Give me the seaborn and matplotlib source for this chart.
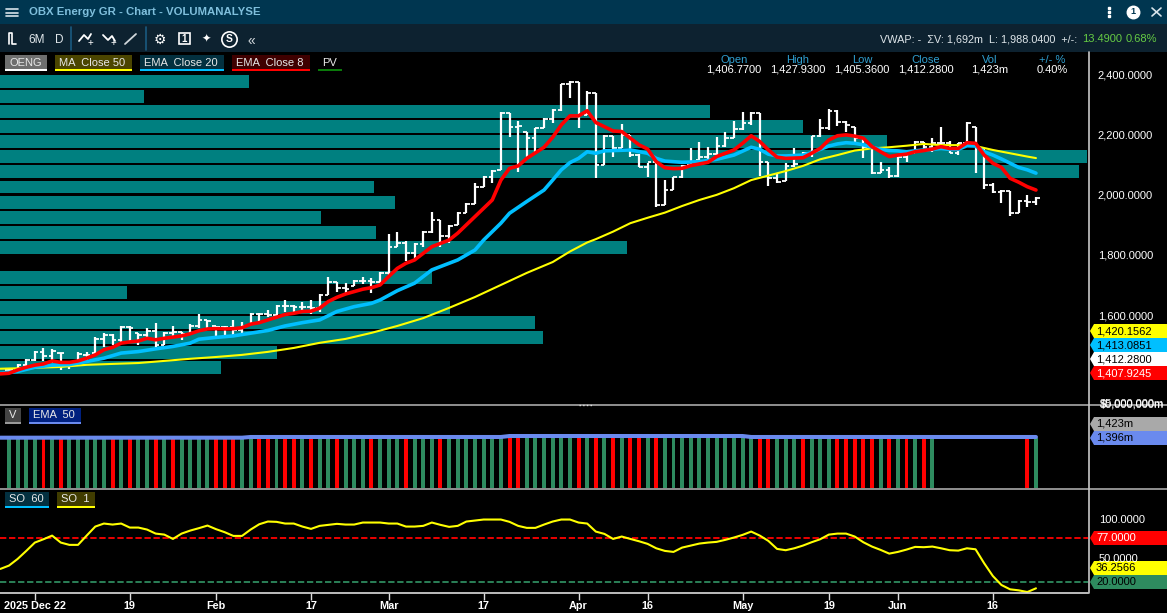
import matplotlib
matplotlib.use("Agg")
import matplotlib.pyplot as plt
from matplotlib.patches import Polygon, Rectangle
import seaborn as sns

# daily bars
bar_no = list(range(120))
open_px = [1418, 1418, 1435, 1451, 1478, 1465, 1475, 1441, 1438, 1468,
           1475, 1521, 1534, 1518, 1561, 1541, 1534, 1548, 1501, 1541,
           1544, 1538, 1564, 1584, 1564, 1561, 1561, 1551, 1567, 1604,
           1604, 1601, 1630, 1630, 1627, 1627, 1624, 1667, 1710, 1690,
           1697, 1713, 1713, 1710, 1740, 1826, 1839, 1806, 1836, 1876,
           1916, 1863, 1899, 1939, 1969, 2025, 2058, 2082, 2271, 2224,
           2208, 2188, 2221, 2251, 2281, 2367, 2373, 2264, 2337, 2098,
           2194, 2155, 2198, 2131, 2092, 2108, 1965, 2015, 2058, 2098,
           2115, 2125, 2135, 2161, 2188, 2218, 2238, 2271, 2108, 2055,
           2045, 2095, 2125, 2138, 2194, 2221, 2277, 2241, 2224, 2188,
           2155, 2072, 2082, 2062, 2125, 2138, 2174, 2158, 2171, 2171,
           2138, 2171, 2224, 2155, 2032, 2009, 2012, 1939, 1979, 1975]
high_px = [1425, 1438, 1455, 1481, 1491, 1488, 1475, 1441, 1478, 1478,
           1528, 1541, 1538, 1564, 1564, 1541, 1557, 1574, 1544, 1564,
           1544, 1571, 1604, 1584, 1564, 1564, 1584, 1577, 1607, 1607,
           1617, 1634, 1650, 1634, 1644, 1650, 1670, 1727, 1710, 1707,
           1717, 1727, 1723, 1743, 1869, 1876, 1846, 1839, 1879, 1942,
           1916, 1899, 1942, 1972, 2038, 2062, 2082, 2274, 2271, 2244,
           2208, 2221, 2254, 2284, 2367, 2377, 2373, 2344, 2337, 2198,
           2194, 2234, 2198, 2135, 2105, 2108, 2048, 2058, 2098, 2155,
           2174, 2158, 2191, 2208, 2244, 2274, 2274, 2271, 2108, 2072,
           2105, 2155, 2141, 2194, 2251, 2284, 2281, 2244, 2224, 2191,
           2155, 2108, 2092, 2125, 2138, 2178, 2174, 2188, 2224, 2178,
           2171, 2241, 2224, 2155, 2038, 2015, 2012, 1982, 1999, 1992]
low_px = [1412, 1418, 1425, 1448, 1448, 1441, 1418, 1422, 1438, 1445,
          1475, 1494, 1501, 1508, 1511, 1501, 1518, 1494, 1501, 1528,
          1518, 1534, 1557, 1551, 1528, 1534, 1534, 1541, 1567, 1574,
          1594, 1594, 1610, 1607, 1614, 1604, 1610, 1667, 1677, 1670,
          1697, 1703, 1674, 1707, 1733, 1826, 1780, 1786, 1826, 1873,
          1826, 1839, 1899, 1939, 1969, 2025, 2038, 2082, 2191, 2075,
          2125, 2141, 2221, 2238, 2277, 2320, 2221, 2264, 2055, 2098,
          2125, 2155, 2125, 2092, 2058, 1959, 1965, 2015, 2055, 2098,
          2115, 2115, 2131, 2158, 2188, 2214, 2231, 2062, 2028, 2038,
          2045, 2092, 2125, 2125, 2191, 2214, 2228, 2208, 2171, 2121,
          2068, 2072, 2055, 2058, 2108, 2138, 2148, 2141, 2161, 2138,
          2131, 2164, 2072, 2019, 2005, 1972, 1929, 1939, 1959, 1965]
close_px = [1418, 1435, 1451, 1478, 1465, 1481, 1475, 1435, 1471, 1468,
            1521, 1534, 1518, 1561, 1557, 1534, 1548, 1501, 1541, 1544,
            1538, 1564, 1584, 1581, 1561, 1561, 1551, 1564, 1604, 1604,
            1601, 1630, 1630, 1627, 1627, 1624, 1667, 1710, 1690, 1687,
            1713, 1713, 1710, 1740, 1826, 1839, 1806, 1836, 1876, 1916,
            1863, 1896, 1939, 1969, 2025, 2058, 2078, 2271, 2224, 2228,
            2188, 2221, 2251, 2281, 2367, 2373, 2264, 2337, 2098, 2194,
            2155, 2198, 2131, 2092, 2108, 1965, 2015, 2058, 2095, 2108,
            2125, 2135, 2161, 2188, 2218, 2238, 2271, 2108, 2055, 2041,
            2095, 2101, 2138, 2194, 2221, 2277, 2241, 2231, 2188, 2158,
            2072, 2082, 2062, 2125, 2135, 2174, 2158, 2171, 2171, 2138,
            2171, 2238, 2155, 2032, 2009, 2012, 1939, 1979, 1975, 1989]

# moving averages, not every bar read
ma50_bars = [-1, 3, 6, 9, 12, 15, 18, 21, 24, 27, 30, 33, 36, 39, 42, 45, 48, 51, 54, 57,
             60, 63, 65, 67, 68, 70, 72, 74, 76, 78, 80, 82, 84, 86, 88, 90, 92, 94, 96,
             98, 100, 102, 104, 106, 108, 110, 112, 114, 116, 118, 119]
ma50 = [1422, 1425, 1428, 1435, 1438, 1441, 1448, 1455, 1461, 1468, 1478, 1491, 1508, 1521,
        1541, 1564, 1590, 1624, 1660, 1700, 1740, 1776, 1811, 1841, 1852, 1877, 1905, 1923,
        1940, 1962, 1982, 1999, 2021, 2048, 2063, 2078, 2095, 2117, 2131, 2146, 2153, 2157,
        2162, 2168, 2164, 2164, 2161, 2148, 2137, 2126, 2121]

ema20_bars = [-1, 1, 3, 5, 7, 9, 11, 13, 15, 17, 19, 21, 22, 24, 26, 28, 30, 32, 34, 36, 38,
              40, 42, 43, 45, 47, 49, 52, 54, 55, 57, 58, 60, 62, 63, 64, 65, 66, 67, 68,
              69, 72, 74, 75, 76, 78, 80, 82, 84, 86, 87, 88, 89, 90, 92, 93, 94, 95, 96,
              97, 98, 99, 100, 101, 102, 103, 104, 105, 106, 107, 108, 109, 110, 111, 112,
              113, 114, 115, 116, 117, 118, 119]
ema20 = [1407, 1413, 1427, 1434, 1436, 1446, 1457, 1474, 1479, 1488, 1496, 1507, 1520, 1526,
         1531, 1540, 1549, 1564, 1575, 1584, 1612, 1628, 1639, 1650, 1681, 1706, 1750, 1783,
         1816, 1849, 1905, 1938, 1977, 2015, 2048, 2082, 2106, 2120, 2142, 2137, 2145, 2148,
         2137, 2120, 2111, 2107, 2109, 2117, 2131, 2157, 2150, 2134, 2128, 2128, 2131, 2139,
         2150, 2161, 2168, 2172, 2170, 2165, 2157, 2150, 2146, 2145, 2142, 2145, 2148, 2150,
         2153, 2150, 2150, 2162, 2161, 2142, 2131, 2118, 2104, 2090, 2082, 2071]

ema8_bars = [-1, 0, 1, 2, 3, 4, 5, 6, 7, 8, 9, 10, 11, 12, 13, 14, 15, 16, 17, 18, 19, 20,
             21, 22, 23, 24, 25, 26, 27, 28, 29, 30, 31, 32, 33, 34, 35, 36, 37, 38, 39,
             40, 41, 42, 43, 44, 45, 46, 47, 49, 51, 52, 54, 56, 57, 58, 59, 60, 62, 63,
             64, 65, 66, 67, 68, 70, 71, 73, 74, 75, 76, 77, 78, 79, 81, 82, 84, 85, 86,
             87, 88, 89, 90, 92, 93, 94, 95, 96, 97, 98, 99, 100, 101, 102, 103, 104, 105,
             106, 107, 108, 109, 110, 111, 112, 113, 114, 115, 116, 117, 118, 119]
ema8 = [1405, 1407, 1418, 1427, 1434, 1438, 1448, 1443, 1443, 1448, 1457, 1468, 1485, 1493,
        1507, 1511, 1514, 1523, 1518, 1523, 1527, 1531, 1538, 1548, 1554, 1555, 1554, 1555,
        1558, 1570, 1575, 1584, 1593, 1602, 1606, 1612, 1613, 1623, 1645, 1659, 1670, 1678,
        1686, 1691, 1700, 1728, 1755, 1772, 1783, 1827, 1849, 1872, 1927, 1982, 2048, 2087,
        2095, 2120, 2157, 2190, 2231, 2261, 2261, 2278, 2239, 2211, 2209, 2165, 2151, 2109,
        2089, 2086, 2087, 2096, 2107, 2126, 2148, 2170, 2195, 2176, 2148, 2124, 2120, 2122,
        2137, 2153, 2181, 2195, 2198, 2194, 2187, 2159, 2142, 2126, 2131, 2134, 2142, 2146,
        2151, 2159, 2153, 2153, 2172, 2170, 2131, 2104, 2090, 2054, 2041, 2026, 2015]

# stochastic, one value per bar from -1
so_bars = list(range(-1, 120))
so_fast = [36.9, 41.2, 49.8, 60.2, 71.0, 75.3, 80.0, 71.0, 68.0, 68.0, 80.0,
           91.7, 95.6, 94.3, 95.6, 90.4, 90.4, 87.8, 82.6, 81.3, 75.7,
           82.6, 86.5, 89.6, 93.0, 88.3, 84.4, 79.6, 79.6, 87.8, 94.7,
           98.2, 97.8, 95.6, 95.6, 91.7, 88.7, 92.6, 93.9, 95.2, 94.3,
           94.3, 96.9, 96.9, 96.9, 95.6, 95.6, 91.7, 91.7, 92.6, 96.9,
           93.9, 91.3, 92.6, 98.2, 99.5, 100.8, 100.8, 100.8, 97.8, 92.6,
           90.0, 90.0, 94.3, 98.2, 100.8, 100.8, 96.9, 95.6, 85.2, 82.2,
           75.7, 78.8, 75.7, 72.7, 69.3, 63.6, 60.2, 58.9, 64.5, 67.1,
           69.7, 71.0, 71.9, 74.5, 77.5, 80.9, 85.2, 80.0, 73.1, 62.8,
           61.1, 63.6, 67.1, 71.4, 75.3, 81.3, 82.6, 82.6, 78.8, 71.4,
           65.8, 61.5, 56.7, 58.9, 61.9, 65.4, 65.0, 65.8, 63.6, 61.1,
           60.6, 63.6, 62.3, 44.2, 27.8, 16.1, 10.5, 9.2, 7.0, 11.8]

# volume, millions; the tops sit under the EMA line
volume = [1360] * 108 + [0] * 10 + [1360] * 2
down_bars = [4, 6, 12, 14, 17, 19, 24, 25, 26, 29, 30, 32, 33, 35, 38, 42, 46, 50, 58, 59,
             66, 68, 70, 72, 73, 75, 87, 88, 92, 96, 97, 98, 99, 100, 102, 104, 106, 118]
vol_ema_bars = [-1, 27, 28, 57, 58, 85, 86, 119]
vol_ema = [1377, 1377, 1396, 1396, 1423, 1423, 1396, 1396]

# volume by price
profile_price = [2375, 2325, 2275, 2225, 2175, 2125, 2075, 2025, 1975, 1925,
                 1875, 1825, 1775, 1725, 1675, 1625, 1575, 1525, 1475, 1425]
profile_vol = [249, 144, 710, 803, 887, 1087, 1079, 374, 395, 321,
               376, 627, 0, 432, 127, 450, 535, 543, 277, 221]

date_bars = [3, 14, 24, 35, 44, 55, 66, 74, 85, 95, 103, 114]
date_labels = ["2025 Dec 22", "19", "Feb", "17", "Mar", "17", "Apr", "16", "May", "19", "Jun", "16"]
price_ticks = [1600, 1800, 2000, 2200, 2400]
price_labels = ["1,600.0000", "1,800.0000", "2,000.0000", "2,200.0000", "2,400.0000"]

W, H = 1167, 613
TEAL = "#008080"
GREEN = "#2e8b5f"

sns.set_theme(style="dark", rc={"axes.facecolor": "black", "figure.facecolor": "black",
                                "axes.grid": False, "text.color": "white"})
plt.rcParams["font.family"] = ["Liberation Sans", "DejaVu Sans"]


def pane(top, bottom):
    return fig.add_axes([0, 1 - bottom / H, 1088 / W, (bottom - top) / H])


def clean(ax):
    ax.set_xlim(-1.04, 125.03)
    ax.set_xlabel("")
    ax.set_ylabel("")
    for s in ax.spines.values():
        s.set_visible(False)
    ax.tick_params(length=0)
    ax.set_xticks([])
    ax.yaxis.tick_right()
    ax.set_yticks([])


fig = plt.figure(figsize=(W / 100, H / 100), dpi=100)

# price pane
ax_price = pane(52, 404)
ax_profile = ax_price.twiny()
ax_profile.set_zorder(0)
ax_price.set_zorder(1)
ax_price.patch.set_visible(False)
ax_profile.patch.set_facecolor("black")
ax_profile.patch.set_visible(True)

sns.barplot(x=profile_vol, y=profile_price, orient="h", native_scale=True, color=TEAL,
            saturation=1, width=0.86, linewidth=0, edgecolor="none", ax=ax_profile)
ax_profile.set_xlim(0, 1088)
ax_profile.set_xticks([])
ax_profile.set_xlabel("")
for s in ax_profile.spines.values():
    s.set_visible(False)

ax_price.vlines(bar_no, low_px, high_px, color="white", lw=1.6)
ax_price.hlines(open_px, [i - 0.42 for i in bar_no], bar_no, color="white", lw=1.3)
ax_price.hlines(close_px, bar_no, [i + 0.42 for i in bar_no], color="white", lw=1.3)
sns.lineplot(x=ma50_bars, y=ma50, color="#ffff00", lw=1.5, estimator=None, ax=ax_price)
sns.lineplot(x=ema20_bars, y=ema20, color="#00bfff", lw=2.6, estimator=None, ax=ax_price)
sns.lineplot(x=ema8_bars, y=ema8, color="#ff0000", lw=2.6, estimator=None, ax=ax_price)
clean(ax_price)
ax_price.set_ylim(1305, 2473)
ax_price.set_yticks(price_ticks, price_labels, color="white", fontsize=8)
ax_price.tick_params(axis="y", pad=7)

# volume pane
ax_vol = pane(406, 488)
vol_side = ["down" if i in down_bars else "up" for i in bar_no]
sns.barplot(x=bar_no, y=volume, hue=vol_side, palette={"up": GREEN, "down": "#ff0000"},
            native_scale=True, dodge=False, saturation=1, width=0.46, linewidth=0,
            edgecolor="none", legend=False, ax=ax_vol)
sns.lineplot(x=vol_ema_bars, y=vol_ema, color="#6a8aee", lw=2.9, estimator=None, ax=ax_vol)
clean(ax_vol)
ax_vol.set_ylim(0, 2244)

# stochastic pane
ax_so = pane(490, 593)
ax_so.axhline(77, color="#ff0000", lw=1.3, ls=(0, (3.5, 1.5)))
ax_so.axhline(20, color=GREEN, lw=1.3, ls=(0, (3.5, 1.5)))
sns.lineplot(x=so_bars, y=so_fast, color="#ffff00", lw=1.5, estimator=None, ax=ax_so)
clean(ax_so)
ax_so.set_ylim(5.75, 139)
ax_so.set_xticks(date_bars, date_labels, color="white", fontsize=7.8, fontweight="bold")
ax_so.tick_params(axis="x", length=5, width=1, color="#dddddd", pad=1, bottom=True)
ax_so.spines["bottom"].set_visible(True)
ax_so.spines["bottom"].set_color("#dddddd")
ax_so.spines["bottom"].set_linewidth(1.2)

# everything else is drawn in pixel coordinates on a top layer
top = fig.add_axes([0, 0, 1, 1], zorder=10)
top.set_xlim(0, W)
top.set_ylim(H, 0)
top.axis("off")


def box(x0, y0, x1, y1, color, z=1):
    top.add_patch(Rectangle((x0, y0), x1 - x0, y1 - y0, fc=color, ec="none", zorder=z))


def label(x, y, s, color="white", size=8, ha="left", weight="normal", z=3):
    top.text(x, y, s, color=color, fontsize=size, ha=ha, va="center", fontweight=weight, zorder=z)


def chip(x0, x1, y0, s, fill, line):
    if fill:
        box(x0, y0, x1, y0 + 15, fill)
    box(x0, y0 + 14, x1, y0 + 16, line, z=2)
    label(x0 + 4, y0 + 7.5, s, color="#e8e8e8", size=8)


def badge(y, s, fill, color="black"):
    top.add_patch(Polygon([(1090, y), (1094, y - 7), (W, y - 7), (W, y + 7), (1094, y + 7)],
                          fc=fill, ec="none", zorder=2))
    label(1096, y, s, color=color, size=8)


# title bar and toolbar
box(0, 0, W, 24, "#003650")
box(0, 24, W, 52, "#0d2230")
for yy in (9, 12.5, 16):
    top.plot([6, 18], [yy, yy], color="#d8e4ea", lw=1.2, zorder=3)
label(29, 12, "OBX Energy GR - Chart - VOLUMANALYSE", color="#7fbfdc", size=8.2, weight="bold")
top.plot([1108.5] * 3, [8, 12, 16], ls="none", marker="s", ms=1.6, color="white", zorder=3)
top.plot([1133], [12], ls="none", marker="o", ms=9, mfc="white", mec="white", zorder=3)
label(1133, 12, "1", color="#003650", size=6.5, ha="center", weight="bold", z=4)
top.plot([1152, 1161], [8, 16], color="#d8e4ea", lw=1.2, zorder=3)
top.plot([1152, 1161], [16, 8], color="#d8e4ea", lw=1.2, zorder=3)

top.plot([9, 9, 12, 12, 16], [44, 33, 33, 44, 44], color="white", lw=1.2, zorder=3)
label(28, 40, "6M", color="#e0e6ea", size=8.5)
label(55, 40, "D", color="#e0e6ea", size=8.5)
for xx in (70.5, 145.5):
    top.plot([xx, xx], [27, 50], color="#1a5a80", lw=1.2, zorder=3)
top.plot([79, 84, 88, 91], [41, 35, 39, 34], color="white", lw=1.3, zorder=3)
label(88, 43, "+", size=7)
top.plot([103, 108, 112, 115], [35, 40, 36, 41], color="white", lw=1.3, zorder=3)
label(111, 43, "+", size=7)
top.plot([125, 136], [44, 34], color="#d0d6da", lw=1.3, zorder=3)
label(159.5, 39.5, "⚙", size=10, ha="center")
top.add_patch(Rectangle((179, 33), 11, 11, fc="none", ec="white", lw=1.2, zorder=3))
label(184.5, 38.5, "1", size=7, ha="center", weight="bold")
label(206, 39, "✦", size=8, ha="center")
top.plot([229], [39], ls="none", marker="o", ms=11, mfc="none", mec="white", mew=1.2, zorder=3)
label(229, 39.5, "S", size=7.5, ha="center", weight="bold")
label(251, 41, "«", color="#d0d6da", size=10, ha="center")

label(880, 39, "VWAP: -  ΣV: 1,692m  L: 1,988.0400  +/-:", color="#dfe6ea", size=7.8)
label(1082, 39, "13.4900", color="#66cc44", size=8)
label(1126, 39, "0.68%", color="#66cc44", size=8)

# quote header
quote_x = [734, 798, 862, 926, 990, 1052]
quote_names = ["Open", "High", "Low", "Close", "Vol", "+/- %"]
quote_values = ["1,406.7700", "1,427.9300", "1,405.3600", "1,412.2800", "1,423m", "0.40%"]
for xx, n, v in zip(quote_x, quote_names, quote_values):
    label(xx, 60, n, color="#2f9fd0", size=8, ha="center")
    label(xx, 70, v, size=8, ha="center")

# indicator chips
chip(5, 47, 55, "OENG", "#6e6e6e", "white")
chip(55, 132, 55, "MA  Close 50", "#4b4500", "#ffff00")
chip(140, 224, 55, "EMA  Close 20", "#03303f", "#00bfff")
chip(232, 310, 55, "EMA  Close 8", "#3f0000", "#ff0000")
chip(318, 342, 55, "PV", None, "#0a7a0a")
chip(5, 21, 408, "V", "#444444", "#999999")
chip(29, 81, 408, "EMA  50", "#00207f", "#6a8aee")
chip(5, 49, 492, "SO  60", "#033040", "#00bfff")
chip(57, 95, 492, "SO  1", "#403c00", "#ffff00")

# pane borders
box(0, 404, W, 406, "#8c8c8c", z=2)
box(0, 488, W, 490, "#8c8c8c", z=2)
top.plot([1088.5, 1088.5], [52, 593], color="#c8c8c8", lw=1.2, zorder=3)
top.plot([579, 593], [404.5, 404.5], color="#dddddd", lw=1, ls=":", zorder=3)

# right hand labels
label(1100, 404, "$5,000,000m", size=8, z=3)
label(1100, 404.5, "$0,000,000m", size=8, z=3)
label(1099, 520, "100.0000", size=8)
label(1099, 559, "50.0000", size=8)
badge(331, "1,420.1562", "#ffff00")
badge(345, "1,413.0851", "#00bfff")
badge(359, "1,412.2800", "white")
badge(373, "1,407.9245", "#ff0000", color="white")
badge(424, "1,423m", "#a9a9a9")
badge(438, "1,396m", "#6a8aee")
badge(538, "77.0000", "#ff0000", color="white")
badge(568, "36.2566", "#ffff00")
badge(582, "20.0000", GREEN)

fig.savefig("out.png", dpi=100, facecolor="black")
